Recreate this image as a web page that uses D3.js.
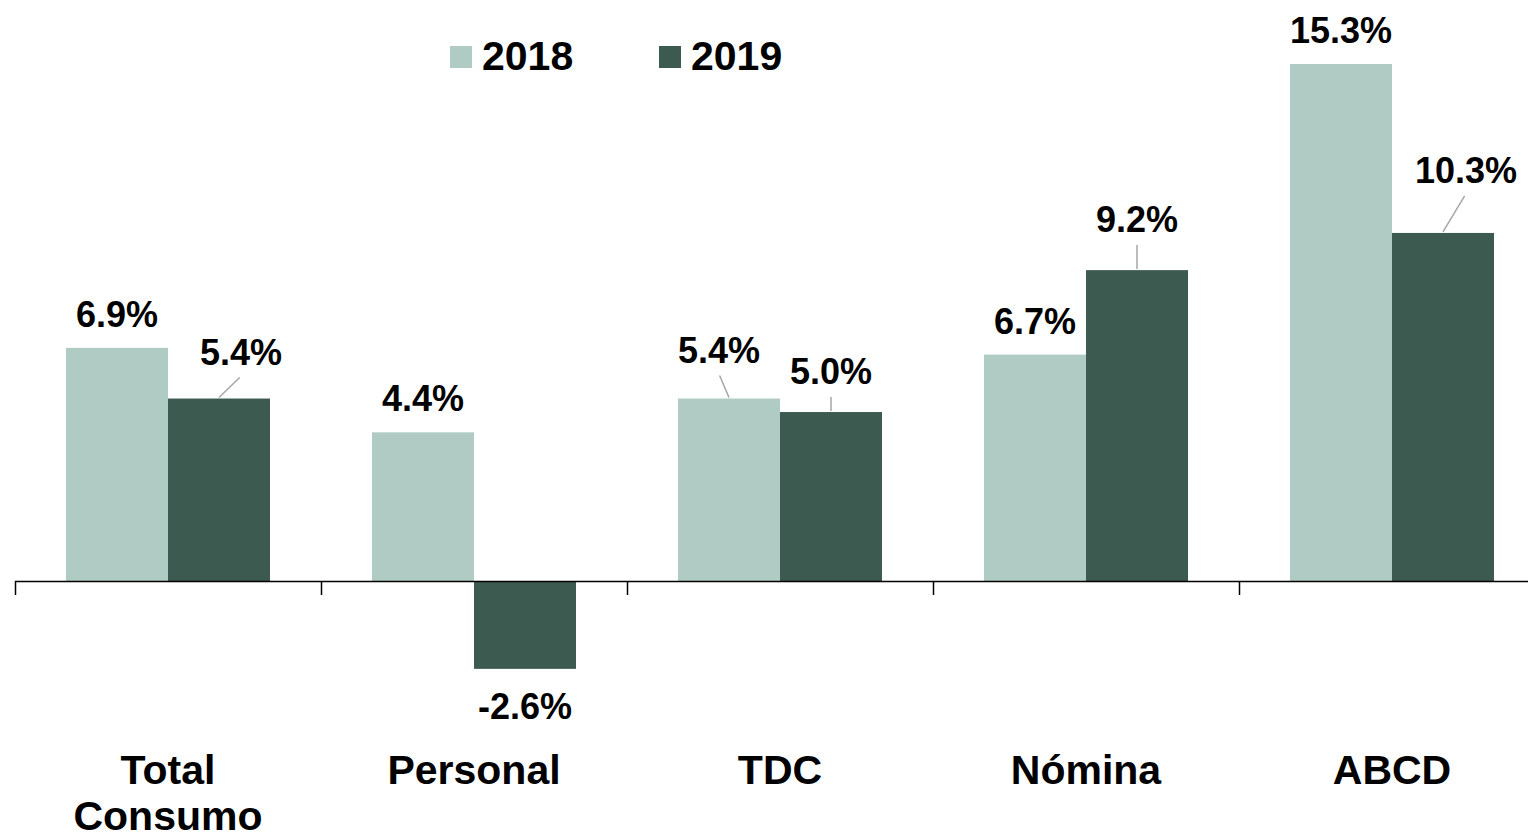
<!DOCTYPE html>
<html>
<head>
<meta charset="utf-8">
<script src="https://d3js.org/d3.v7.min.js"></script>
<style>
  body { margin: 0; background: #fff; }
  text { font-family: "Liberation Sans", Arial, sans-serif; font-weight: bold; fill: #000; }
</style>
</head>
<body>
<script>
// data
var categories = [['Total', 'Consumo'], ['Personal'], ['TDC'], ['Nómina'], ['ABCD']];
var series = ['2018', '2019'];
var values2018 = [6.9, 4.4, 5.4, 6.7, 15.3];
var values2019 = [5.4, -2.6, 5.0, 9.2, 10.3];

// label nudges (px) where the labels were dragged away from the bar, per category [2018, 2019]
var labelNudge = [
    [[0, 0], [22, -13]],
    [[0, 0], [0, 0]],
    [[-10, -15], [0, -7]],
    [[0, 0], [0, -17]],
    [[0, 0], [23, -29]]
];

var width = 1528, height = 833;
var colors = ['#b0cbc4', '#3d5a50'];

var svg = d3.select('body').append('svg')
    .attr('width', width)
    .attr('height', height);

var catNames = categories.map(function (c) { return c.join(' '); });

var x0 = d3.scaleBand()
    .domain(catNames)
    .range([15, 15 + 306 * catNames.length])
    .padding(0);

var x1 = d3.scaleBand()
    .domain(series)
    .range([0, x0.bandwidth()])
    .paddingInner(0)
    .paddingOuter(0.5);

var y = d3.scaleLinear()
    .domain([0, 15.3])
    .range([581, 64]);

var color = d3.scaleOrdinal().domain(series).range(colors);

var rows = [];
catNames.forEach(function (name, i) {
    [values2018[i], values2019[i]].forEach(function (v, j) {
        rows.push({cat: name, ci: i, s: series[j], si: j, v: v});
    });
});

// bars
svg.append('g').selectAll('rect')
    .data(rows)
    .enter().append('rect')
    .attr('x', function (d) { return x0(d.cat) + x1(d.s); })
    .attr('y', function (d) { return y(Math.max(0, d.v)); })
    .attr('width', x1.bandwidth())
    .attr('height', function (d) { return Math.abs(y(d.v) - y(0)); })
    .attr('fill', function (d) { return color(d.s); });

// axis line + ticks at category boundaries
var axis = svg.append('g');
axis.append('line')
    .attr('x1', 15).attr('x2', width)
    .attr('y1', y(0) + 0.5).attr('y2', y(0) + 0.5)
    .attr('stroke', '#000').attr('stroke-width', 1.5);
axis.selectAll('.tick')
    .data(catNames)
    .enter().append('line')
    .attr('x1', function (d) { return x0(d) + 0.5; })
    .attr('x2', function (d) { return x0(d) + 0.5; })
    .attr('y1', y(0)).attr('y2', y(0) + 14)
    .attr('stroke', '#000').attr('stroke-width', 1.5);

// value labels
function labelPos(d) {
    var n = labelNudge[d.ci][d.si];
    var cx = x0(d.cat) + x1(d.s) + x1.bandwidth() / 2;
    var by = d.v >= 0 ? y(d.v) - 21 : y(d.v) + 50;
    return {bx: cx, top: y(d.v), x: cx + n[0], y: by + n[1], moved: n[0] !== 0 || n[1] !== 0};
}

svg.append('g').selectAll('line')
    .data(rows.filter(function (d) { return labelPos(d).moved; }))
    .enter().append('line')
    .attr('x1', function (d) { return labelPos(d).bx; })
    .attr('y1', function (d) { return labelPos(d).top - 1; })
    .attr('x2', function (d) { var p = labelPos(d); return p.x - (p.x - p.bx) * 0.06; })
    .attr('y2', function (d) { return labelPos(d).y + 13; })
    .attr('stroke', '#a6a6a6').attr('stroke-width', 1.5);

svg.append('g').selectAll('text')
    .data(rows)
    .enter().append('text')
    .attr('x', function (d) { return labelPos(d).x; })
    .attr('y', function (d) { return labelPos(d).y; })
    .attr('text-anchor', 'middle')
    .style('font-size', '36px')
    .text(function (d) { return d.v.toFixed(1) + '%'; });

// category labels
var cat = svg.append('g').selectAll('text')
    .data(categories)
    .enter().append('text')
    .attr('text-anchor', 'middle')
    .attr('x', function (d, i) { return x0(catNames[i]) + x0.bandwidth() / 2; })
    .attr('y', 784)
    .style('font-size', '41px');
cat.selectAll('tspan')
    .data(function (d) { return d; })
    .enter().append('tspan')
    .attr('x', function () { return d3.select(this.parentNode).attr('x'); })
    .attr('dy', function (d, i) { return i === 0 ? 0 : 46; })
    .text(function (d) { return d; });

// legend
var legendX = [450, 659];
var legend = svg.append('g').selectAll('g')
    .data(series)
    .enter().append('g')
    .attr('transform', function (d, i) { return 'translate(' + legendX[i] + ',46)'; });
legend.append('rect')
    .attr('width', 22).attr('height', 22)
    .attr('fill', function (d) { return color(d); });
legend.append('text')
    .attr('x', 32).attr('y', 24)
    .style('font-size', '41px')
    .text(function (d) { return d; });
</script>
</body>
</html>
